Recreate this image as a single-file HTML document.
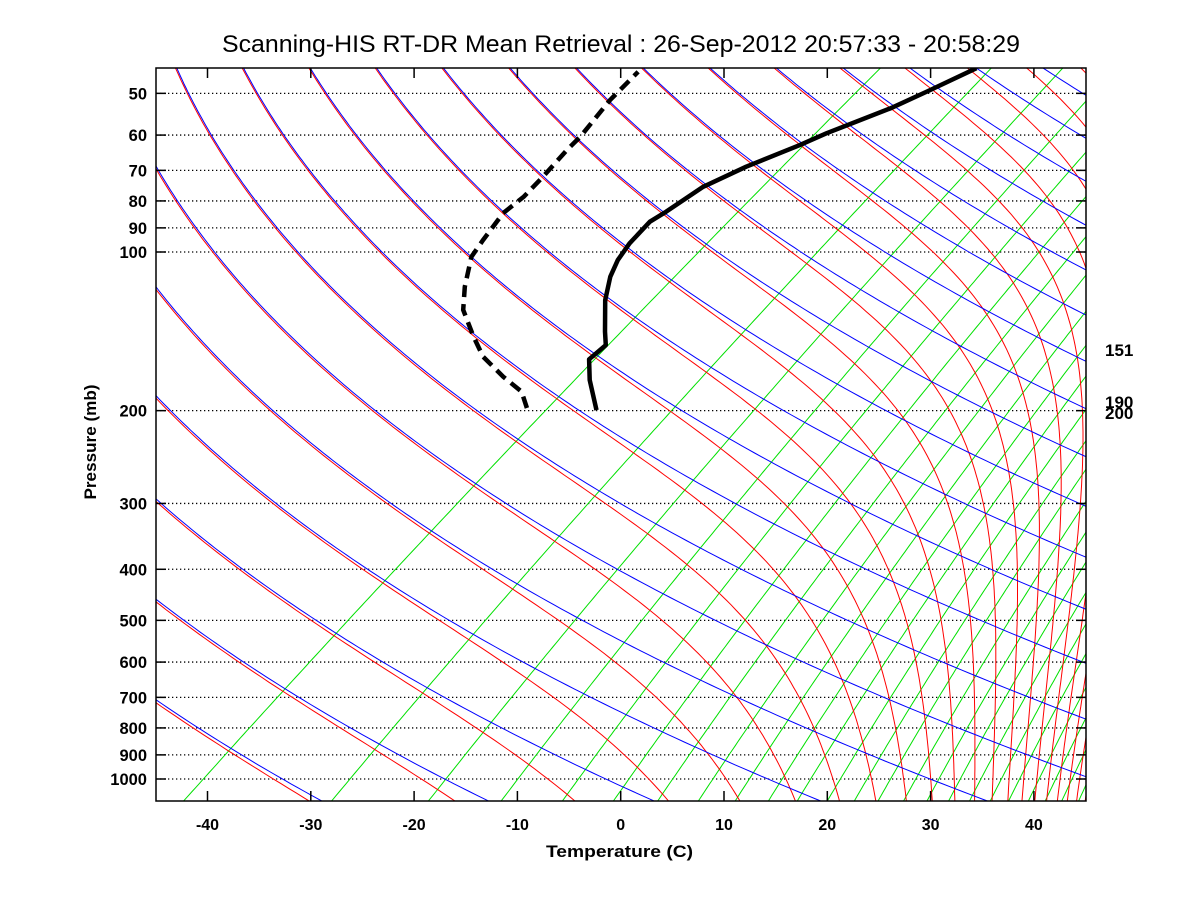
<!DOCTYPE html>
<html><head><meta charset="utf-8"><style>
html,body{margin:0;padding:0;background:#fff;}
svg{display:block;font-family:"Liberation Sans",sans-serif;}
</style></head><body>
<svg id="chart" width="1200" height="900" viewBox="0 0 1200 900" xmlns="http://www.w3.org/2000/svg">
<defs><clipPath id="plotclip"><rect x="156" y="68" width="930" height="733"/></clipPath></defs>
<rect x="0" y="0" width="1200" height="900" fill="#fff"/>
<text x="222" y="52" font-size="24" textLength="798" lengthAdjust="spacingAndGlyphs">Scanning-HIS RT-DR Mean Retrieval : 26-Sep-2012 20:57:33 - 20:58:29</text>
<g id="grid" clip-path="url(#plotclip)"></g>
<g id="lines" clip-path="url(#plotclip)"></g>
<g id="profiles" clip-path="url(#plotclip)"></g>
<rect x="156" y="68" width="930" height="733" fill="none" stroke="#000" stroke-width="1.5"/>
<g id="axes"></g>
<text x="546" y="857" font-size="17" font-weight="bold" textLength="147" lengthAdjust="spacingAndGlyphs">Temperature (C)</text>
<text x="0" y="0" font-size="17" font-weight="bold" text-anchor="middle" textLength="115" lengthAdjust="spacingAndGlyphs" transform="translate(96,442) rotate(-90)">Pressure (mb)</text>
<text x="1105" y="356" font-size="17" font-weight="bold">151</text>
<text x="1105" y="408" font-size="17" font-weight="bold">190</text>
<text x="1105" y="419" font-size="17" font-weight="bold">200</text>
</svg>
<script>
const tempTicks = [-40,-30,-20,-10,0,10,20,30,40];
const pressTicks = [50,60,70,80,90,100,200,300,400,500,600,700,800,900,1000];
const dryThetas = [206.3,222.0,237.6,253.3,268.9,284.6,300.3,316.0,331.6,347.3,363.0,378.6,394.3,410.0,425.6,441.3,457.0,472.6,488.3,504.0,519.6,535.3,551.0];
const moistThetas = [222.0,237.6,253.3,268.9,284.6,300.3,316.0,331.6,347.3,363.0,378.6,394.3,410.0,425.6,441.3,457.0,472.6,488.3,504.0,519.6,535.3,551.0,566.6,582.3,598.0,613.6,629.3,645.0,660.6,676.3,692.0,707.6,723.3];
const mixRatios = [0.084,0.348,0.80,1.43,2.27,3.28,4.46,5.86,7.45,9.2,11.0,13.2,15.5,17.8,20.6,23.5,26.5,29.7,33.2,36.6,40.6,44.3,48.2,52.5];
const tempP = [199.5,174.9,159.8,150.2,141.6,123.4,111.4,103.6,96.3,87.6,83.9,75.2,68.9,62.7,59.5,53.4,49.6,44.8];
const tempT = [-52.3,-56.8,-59.5,-59.7,-61.5,-65.5,-68.0,-69.4,-70.4,-71.2,-70.9,-70.5,-68.9,-66.5,-65.4,-62.4,-61.0,-59.2];
const dewP = [197.7,184.1,172.4,158.0,144.7,128.8,116.4,102.1,94.9,84.4,78.5,71.9,64.0,60.4,51.5,45.5];
const dewT = [-59.3,-61.9,-65.6,-70.1,-73.6,-78.0,-80.8,-84.0,-85.0,-86.5,-86.6,-87.3,-88.4,-88.8,-90.6,-91.5];

const NS="http://www.w3.org/2000/svg";
function Y(p){return 779-527*Math.log10(1000/p);}
function X(T,p){return 620.7+10.33*T+1.32*(801-Y(p));}
function mk(tag,attrs,parent){const e=document.createElementNS(NS,tag);for(const k in attrs)e.setAttribute(k,attrs[k]);parent.appendChild(e);return e;}
const grid=document.getElementById('grid'),lines=document.getElementById('lines'),prof=document.getElementById('profiles'),axes=document.getElementById('axes');
const PTOP=40,PBOT=1110;
function pts(fn){const a=[];for(let i=0;i<=200;i++){const p=PBOT*Math.pow(PTOP/PBOT,i/200);const T=fn(p);if(isFinite(T))a.push(X(T,p).toFixed(1)+','+Y(p).toFixed(1));}return a.join(' ');}

pressTicks.forEach(p=>{
  const l=mk('line',{x1:156,x2:1086,y1:Y(p),y2:Y(p),stroke:'#000','stroke-width':1.3,'stroke-dasharray':'1.3,2.7'},grid);
  
  
});
mixRatios.forEach(w=>{
  const pl=mk('polyline',{points:pts(p=>{const e=w*p/622;const L=Math.log(e/6.112);return 243.5*L/(17.67-L);}),fill:'none',stroke:'#00e000','stroke-width':1},lines);
  
  
});
function es(Tc){return 1.1*6.112*Math.exp(17.67*Tc/(Tc+243.5));}
function dTdlnp(T,p){const e=es(T-273.15);const rs=0.622*e/Math.max(p-e,1e-6);return (287.04*T+2.501e6*rs)/(1005.7+2.501e6*2.501e6*rs*0.622/(287.04*T*T));}
moistThetas.forEach(th=>{
  let p=2,T=th*Math.pow(p/1000,0.2857);const a=[];
  const N=3000,l0=Math.log(p),l1=Math.log(PBOT),h=(l1-l0)/N;
  for(let i=0;i<=N;i++){
    const lp=l0+i*h;p=Math.exp(lp);
    if(p>=PTOP && i%10===0)a.push(X(T-273.15,p).toFixed(1)+','+Y(p).toFixed(1));
    const k1=dTdlnp(T,p);const k2=dTdlnp(T+h*k1,Math.exp(lp+h));T=T+h*(k1+k2)/2;
  }
  const pl=mk('polyline',{points:a.join(' '),fill:'none',stroke:'#ff0000','stroke-width':1},lines);
  
  
});
dryThetas.forEach(th=>{
  const pl=mk('polyline',{points:pts(p=>th*Math.pow(p/1000,0.2857)-273.15),fill:'none',stroke:'#0000ff','stroke-width':1},lines);
  
  
});
function prPts(P,T){return P.map((p,i)=>X(T[i],p).toFixed(1)+','+Y(p).toFixed(1)).join(' ');}
const tl=mk('polyline',{points:prPts(tempP,tempT),fill:'none',stroke:'#000','stroke-width':4.5,'stroke-linejoin':'round'},prof);


const dl=mk('polyline',{points:prPts(dewP,dewT),fill:'none',stroke:'#000','stroke-width':4.5,'stroke-dasharray':'12,7'},prof);


tempTicks.forEach(t=>{
  const x=620.7+10.33*t;
  const a=mk('line',{x1:x,x2:x,y1:801,y2:791,stroke:'#000','stroke-width':1.5},axes);
  
  
  const b=mk('line',{x1:x,x2:x,y1:68,y2:78,stroke:'#000','stroke-width':1.5},axes);
  
  
  const tx=mk('text',{x:x,y:830,'font-size':16,'font-weight':'bold','text-anchor':'middle'},axes);
  tx.textContent=String(t);
  
  
});
pressTicks.forEach(p=>{
  const y=Y(p);
  const a=mk('line',{x1:156,x2:166,y1:y,y2:y,stroke:'#000','stroke-width':1.5},axes);
  
  
  const b=mk('line',{x1:1076,x2:1086,y1:y,y2:y,stroke:'#000','stroke-width':1.5},axes);
  
  
  const tx=mk('text',{x:147,y:y+6,'font-size':16.5,'font-weight':'bold','text-anchor':'end'},axes);
  tx.textContent=String(p);
  
  
});
</script>
</body></html>
